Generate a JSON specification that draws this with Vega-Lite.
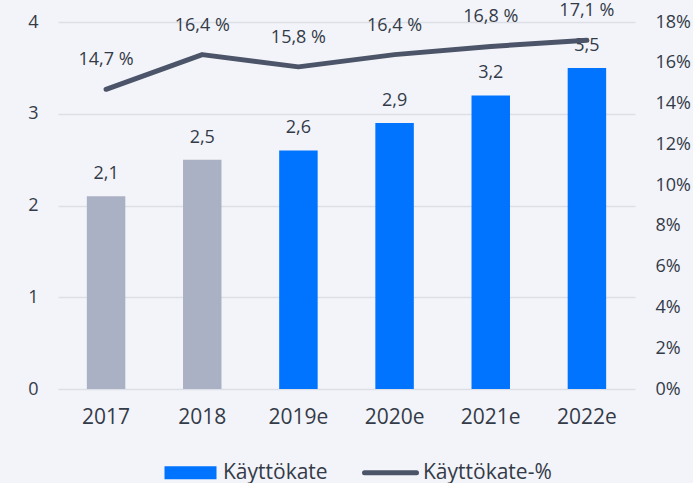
{
  "$schema": "https://vega.github.io/schema/vega-lite/v6.json",
  "width": 577,
  "height": 367,
  "autosize": "none",
  "padding": {"left": 58, "top": 22, "right": 58, "bottom": 94},
  "background": "#f3f4f9",
  "config": {
    "font": "Open Sans",
    "view": {"stroke": null},
    "axis": {"labelFont": "Open Sans", "labelColor": "#333b48", "labelFontSize": 18, "ticks": false, "domain": false, "title": null},
    "legend": {"labelFont": "Open Sans", "labelFontSize": 21, "labelColor": "#333b48"}
  },
  "data": {
    "values": [
      {"year": "2017", "ebitda": 2.1, "pct": 14.7, "actual": true},
      {"year": "2018", "ebitda": 2.5, "pct": 16.4, "actual": true},
      {"year": "2019e", "ebitda": 2.6, "pct": 15.8, "actual": false},
      {"year": "2020e", "ebitda": 2.9, "pct": 16.4, "actual": false},
      {"year": "2021e", "ebitda": 3.2, "pct": 16.8, "actual": false},
      {"year": "2022e", "ebitda": 3.5, "pct": 17.1, "actual": false}
    ]
  },
  "transform": [
    {"calculate": "replace(format(datum.ebitda, '.1f'), '.', ',')", "as": "ebitdaLabel"},
    {"calculate": "replace(format(datum.pct, '.1f'), '.', ',') + ' %'", "as": "pctLabel"}
  ],
  "encoding": {
    "x": {
      "field": "year", "type": "ordinal", "sort": null,
      "scale": {"paddingInner": 0.6, "paddingOuter": 0.3},
      "axis": {"labelAngle": 0, "labelPadding": 17, "labelFontSize": 21, "grid": false}
    }
  },
  "layer": [
    {
      "encoding": {
        "y": {
          "field": "ebitda", "type": "quantitative",
          "scale": {"domain": [0, 4]},
          "axis": {"orient": "left", "values": [0, 1, 2, 3, 4], "grid": true, "gridColor": "#dcdfe6", "gridWidth": 1.5, "labelPadding": 20, "labelBaseline": "middle"}
        }
      },
      "layer": [
        {
          "mark": {"type": "bar"},
          "encoding": {
            "color": {
              "condition": {"test": "datum.actual", "value": "#abb1c4"},
              "datum": "Käyttökate",
              "type": "nominal",
              "scale": {"domain": ["Käyttökate", "Käyttökate-%"], "range": ["#0073ff", "#4b5468"]},
              "legend": {
                "title": null,
                "orient": "none",
                "direction": "horizontal",
                "legendX": 122,
                "legendY": 440,
                "padding": 0,
                "columnPadding": 26,
                "labelOffset": 22,
                "symbolSize": 2704,
                "symbolStrokeWidth": 5,
                "encode": {
                  "symbols": {
                    "update": {
                      "shape": {"signal": "datum.value === 'Käyttökate' ? 'M-1,-0.25H1V0.25H-1Z' : 'stroke'"},
                      "fill": {"signal": "datum.value === 'Käyttökate' ? '#0073ff' : 'transparent'"},
                      "stroke": {"signal": "datum.value === 'Käyttökate' ? 'transparent' : '#4b5468'"},
                      "strokeWidth": {"signal": "datum.value === 'Käyttökate' ? 0 : 5"},
                      "strokeCap": {"value": "round"},
                      "opacity": {"value": 1}
                    }
                  }
                }
              }
            }
          }
        },
        {
          "mark": {"type": "text", "baseline": "alphabetic", "dy": -17, "fontSize": 18, "color": "#333b48"},
          "encoding": {"text": {"field": "ebitdaLabel"}}
        }
      ]
    },
    {
      "encoding": {
        "y": {
          "field": "pct", "type": "quantitative",
          "scale": {"domain": [0, 18]},
          "axis": {"orient": "right", "values": [0, 2, 4, 6, 8, 10, 12, 14, 16, 18], "grid": false, "labelPadding": 20, "labelBaseline": "middle", "labelExpr": "datum.value + '%'"}
        }
      },
      "layer": [
        {
          "mark": {"type": "line", "strokeWidth": 5, "strokeCap": "round", "strokeJoin": "round"},
          "encoding": {
            "color": {"datum": "Käyttökate-%", "type": "nominal"}
          }
        },
        {
          "mark": {"type": "text", "baseline": "alphabetic", "dy": -24, "fontSize": 18, "color": "#333b48"},
          "encoding": {"text": {"field": "pctLabel"}}
        }
      ]
    }
  ],
  "resolve": {"scale": {"y": "independent"}}
}
